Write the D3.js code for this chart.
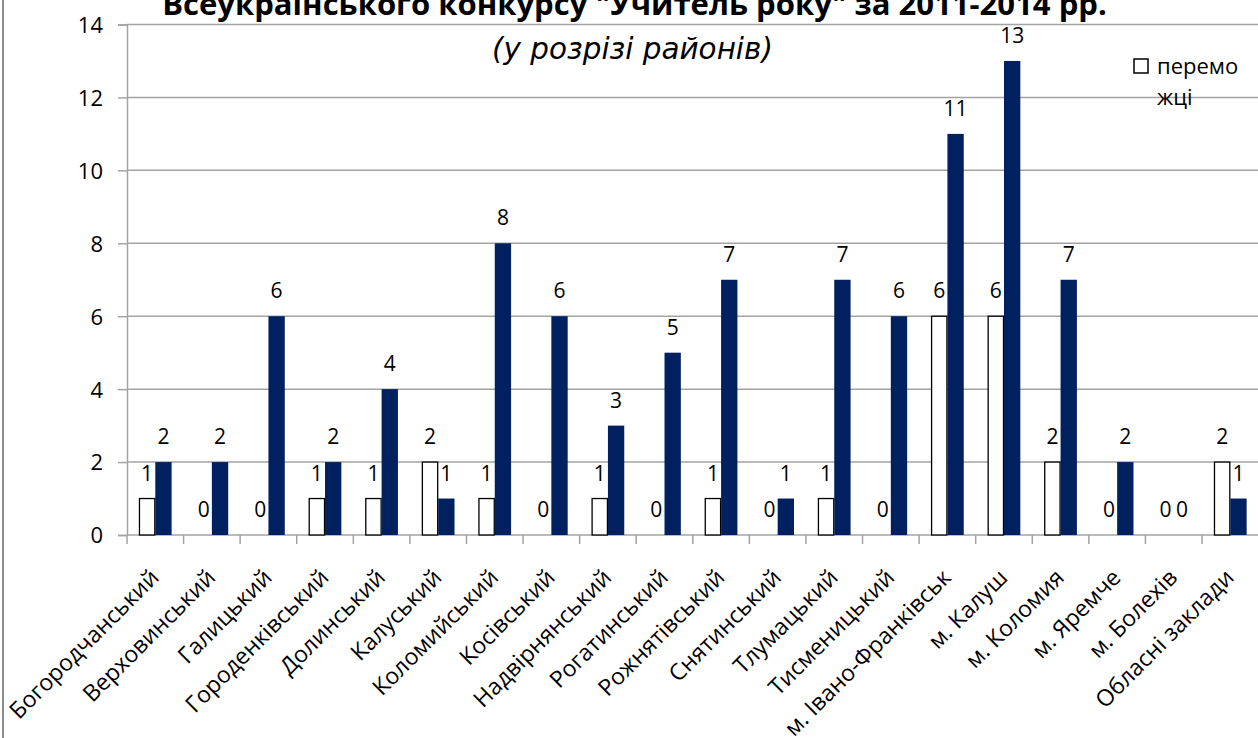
<!DOCTYPE html>
<html><head><meta charset="utf-8">
<script src="https://cdn.jsdelivr.net/npm/d3@7"></script>
<style>body{margin:0;background:#fff}svg{display:block}</style>
</head><body>
<svg id="c" width="1258" height="738"></svg>
<script>
const categories = ["Богородчанський","Верховинський","Галицький","Городенківський","Долинський","Калуський","Коломийський","Косівський","Надвірнянський","Рогатинський","Рожнятівський","Снятинський","Тлумацький","Тисменицький","м. Івано-Франківськ","м. Калуш","м. Коломия","м. Яремче","м. Болехів","Обласні заклади"];
const winners      = [1,0,0,1,1,2,1,0,1,0,1,0,1,0,6,6,2,0,0,2];
const participants = [2,2,6,2,4,1,8,6,3,5,7,1,7,6,11,13,7,2,0,1];
const yTicks = [0,2,4,6,8,10,12,14];
const titleText = "Всеукраїнського конкурсу \"Учитель року\" за 2011-2014 рр.";
const subtitleText = "(у розрізі районів)";
const legendLines = ["перемо","жці"];

(function(){
const svg = d3.select("#c");
const FONT = "'Open Sans', sans-serif";
const pL = 127, pR = 1258.6, pT = 24.5, pB = 535;
const navy = "#002060", grid = "#a3a3a3";

svg.append("rect").attr("width",1258).attr("height",738).attr("fill","#fff");
svg.append("line").attr("x1",3).attr("x2",3).attr("y1",0).attr("y2",738).attr("stroke","#8c8c8c").attr("stroke-width",2);

const y = d3.scaleLinear().domain([0,14]).range([pB, pT]);
const x = d3.scaleBand().domain(categories).range([pL, pR]).paddingInner(0).paddingOuter(0);
const step = x.step();
const groupW = step*0.577;
const sub = d3.scaleBand().domain(["w","p"]).range([0, groupW]);

svg.append("g").selectAll("line").data(yTicks.filter(d=>d>0)).join("line")
  .attr("x1",pL).attr("x2",1258).attr("y1",d=>y(d)).attr("y2",d=>y(d))
  .attr("stroke",grid).attr("stroke-width",1.5);

const yAxis = d3.axisLeft(y).tickValues(yTicks).tickSize(9).tickPadding(15).tickFormat(d3.format("d"));
const gy = svg.append("g").attr("transform",`translate(${pL},0)`).call(yAxis);
gy.select(".domain").attr("stroke",grid).attr("stroke-width",1.5);
gy.selectAll(".tick line").attr("stroke",grid).attr("stroke-width",1.5);
gy.selectAll(".tick text").attr("font-family",FONT).attr("font-size",22).attr("fill","#000").attr("dy","0.36em");

svg.append("line").attr("x1",pL).attr("x2",1258).attr("y1",pB).attr("y2",pB).attr("stroke",grid).attr("stroke-width",1.5);
svg.append("g").selectAll("line").data(categories).join("line")
  .attr("x1",d=>x(d)).attr("x2",d=>x(d)).attr("y1",pB).attr("y2",pB+9)
  .attr("stroke",grid).attr("stroke-width",1.5);

svg.append("g").selectAll("text").data(categories).join("text")
  .attr("transform",d=>`translate(${x(d)+step/2+5},${579}) rotate(-45)`)
  .attr("text-anchor","end").attr("font-family",FONT).attr("font-size",23).attr("fill","#000")
  .text(d=>d);

const gx = d => x(d) + (step-groupW)/2;
const gb = svg.append("g");
gb.selectAll("rect.w").data(categories).join("rect").attr("class","w")
  .attr("x",(d)=>gx(d)+sub("w")+0.5).attr("width",sub.bandwidth()-1)
  .attr("y",(d,i)=>y(winners[i])).attr("height",(d,i)=>pB-y(winners[i]))
  .attr("fill","#fff").attr("stroke",(d,i)=>winners[i]>0?"#000":"none").attr("stroke-width",1.3);
gb.selectAll("rect.p").data(categories).join("rect").attr("class","p")
  .attr("x",(d)=>gx(d)+sub("p")).attr("width",sub.bandwidth())
  .attr("y",(d,i)=>y(participants[i])).attr("height",(d,i)=>pB-y(participants[i]))
  .attr("fill",navy);

const gl = svg.append("g").attr("font-family",FONT).attr("font-size",21).attr("text-anchor","middle").attr("fill","#000");
gl.selectAll("text.w").data(categories).join("text").attr("class","w")
  .attr("x",d=>gx(d)+sub("w")+sub.bandwidth()/2).attr("y",(d,i)=>y(winners[i])-18).text((d,i)=>winners[i]);
gl.selectAll("text.p").data(categories).join("text").attr("class","p")
  .attr("x",d=>gx(d)+sub("p")+sub.bandwidth()/2).attr("y",(d,i)=>y(participants[i])-18).text((d,i)=>participants[i]);

function fit(sel, target){ const w = sel.node().getComputedTextLength(); const fs = +sel.attr("font-size"); sel.attr("font-size", fs*target/w); }
const t = svg.append("text").attr("x",634.5).attr("y",15).attr("text-anchor","middle")
  .attr("font-family",FONT).attr("font-weight","bold").attr("font-size",24).attr("fill","#000").text(titleText);
fit(t, 945);
const st = svg.append("text").attr("x",632.5).attr("y",59).attr("text-anchor","middle")
  .attr("font-family","'DejaVu Sans', sans-serif").attr("font-style","italic").attr("font-size",24).attr("fill","#000").text(subtitleText);
fit(st, 281);

svg.append("rect").attr("x",1134).attr("y",59).attr("width",14).attr("height",14).attr("fill","#fff").attr("stroke","#000").attr("stroke-width",1.5);
svg.append("g").selectAll("text").data(legendLines).join("text")
  .attr("x",1157).attr("y",(d,i)=>74+i*31).attr("font-family",FONT).attr("font-size",22).attr("fill","#000").text(d=>d);
})();
</script>
</body></html>
